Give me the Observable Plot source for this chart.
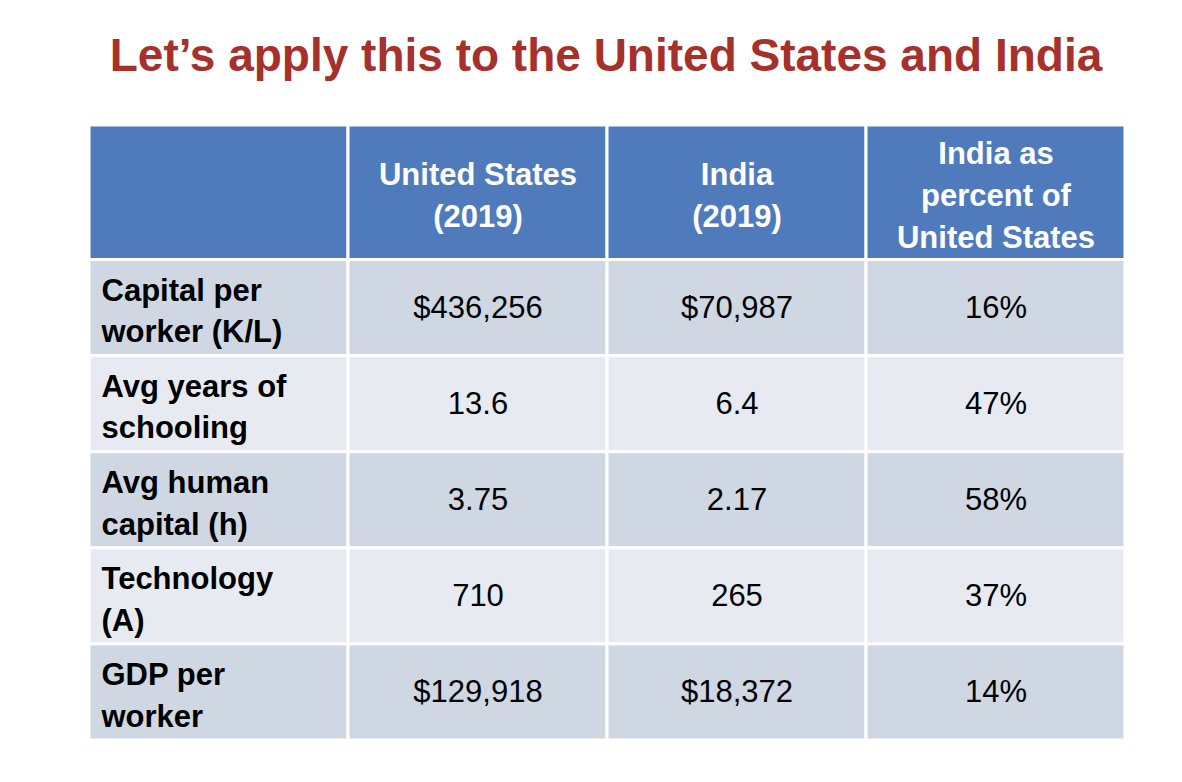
<!DOCTYPE html>
<html>
<head>
<meta charset="utf-8">
<script src="https://cdn.jsdelivr.net/npm/d3@7"></script>
<script src="https://cdn.jsdelivr.net/npm/@observablehq/plot@0.6"></script>
<style>
  body { margin: 0; background: #fff; font-family: "Liberation Sans", Arial, sans-serif; }
  #title { height: 105px; line-height: 110px; text-align: center; color: #A6302B; font-weight: bold; font-size: 46px; padding-left: 30px; }
</style>
</head>
<body>
<div id="title">Let’s apply this to the United States and India</div>
<div id="chart"></div>
<script>
// Table content
const headers = ["", "United States\n(2019)", "India\n(2019)", "India as\npercent of\nUnited States"];
const rowLabels = ["Capital per\nworker (K/L)", "Avg years of\nschooling", "Avg human\ncapital (h)", "Technology\n(A)", "GDP per\nworker"];
const usValues = ["$436,256", "13.6", "3.75", "710", "$129,918"];
const indiaValues = ["$70,987", "6.4", "2.17", "265", "$18,372"];
const pctValues = ["16%", "47%", "58%", "37%", "14%"];

const headH = 1.4; // header row height in row units
const rowTop = i => headH + i;

const cells = [];
headers.forEach((h, c) => cells.push({ x1: c, x2: c + 1, y1: 0, y2: headH, fill: "#4F7BBD" }));
rowLabels.forEach((_, r) => {
  for (let c = 0; c < 4; c++) {
    cells.push({ x1: c, x2: c + 1, y1: rowTop(r), y2: rowTop(r) + 1, fill: r % 2 === 0 ? "#CED7E2" : "#E7EBF1" });
  }
});

const headText = headers.map((t, c) => ({ x: c + 0.5, y: headH / 2, t }));
const labelText = rowLabels.map((t, r) => ({ x: 0, y: rowTop(r) + 0.5, t }));
const valText = [];
[usValues, indiaValues, pctValues].forEach((col, c) =>
  col.forEach((t, r) => valText.push({ x: c + 1.5, y: rowTop(r) + 0.5, t })));

const plot = Plot.plot({
  width: 1182,
  height: 677,
  margin: 0,
  x: { domain: [0, 4], range: [89, 1125], axis: null },
  y: { domain: [0, headH + 5], range: [20, 635], axis: null },
  style: { fontFamily: "Liberation Sans, Arial, sans-serif" },
  marks: [
    Plot.rect(cells, { x1: "x1", x2: "x2", y1: "y1", y2: "y2", fill: "fill", stroke: "#fff", strokeWidth: 3 }),
    Plot.text(headText, { x: "x", y: "y", text: "t", fill: "#fff", fontWeight: "bold", fontSize: 31, lineHeight: 1.35 }),
    Plot.text(labelText, { x: "x", y: "y", text: "t", dx: 12, textAnchor: "start", fill: "#000", fontWeight: "bold", fontSize: 31, lineHeight: 1.35 }),
    Plot.text(valText, { x: "x", y: "y", text: "t", fill: "#000", fontSize: 31 })
  ]
});
document.getElementById("chart").appendChild(plot);
</script>
</body>
</html>
